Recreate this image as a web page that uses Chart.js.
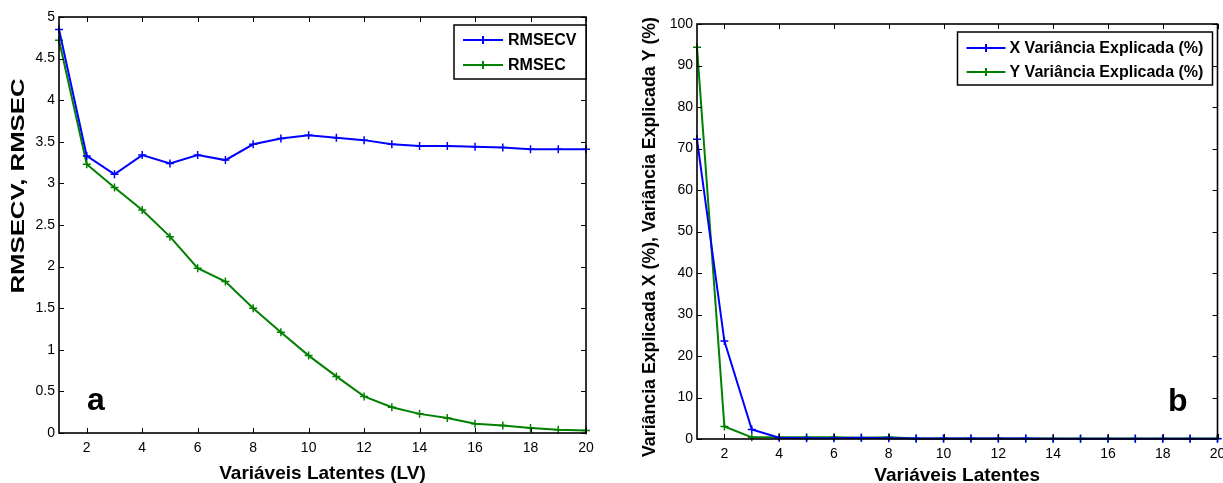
<!DOCTYPE html>
<html>
<head>
<meta charset="utf-8">
<script src="https://cdn.jsdelivr.net/npm/chart.js@4.4.1/dist/chart.umd.min.js"></script>
<style>
    html, body { margin: 0; padding: 0; background: #fff; }
    #wrap { position: relative; width: 1223px; height: 483px; overflow: hidden; }
    #wrap canvas { position: absolute; top: 0; }
</style>
</head>
<body>
<div id="wrap">
    <canvas id="chart-a" width="620" height="483" style="left:0"></canvas>
    <canvas id="chart-b" width="603" height="483" style="left:620px"></canvas>
</div>
<script>
// ---------- Data ----------
const LV = [1, 2, 3, 4, 5, 6, 7, 8, 9, 10, 11, 12, 13, 14, 15, 16, 17, 18, 19, 20];

const RMSECV = [4.85, 3.33, 3.11, 3.34, 3.24, 3.34, 3.28, 3.47, 3.54, 3.58, 3.55, 3.52, 3.47, 3.45, 3.45, 3.44, 3.43, 3.41, 3.41, 3.41];
const RMSEC = [4.72, 3.23, 2.95, 2.68, 2.36, 1.98, 1.82, 1.50, 1.21, 0.93, 0.68, 0.44, 0.31, 0.23, 0.18, 0.11, 0.09, 0.06, 0.04, 0.03];

const X_VAR = [72.2, 23.6, 2.3, 0.3, 0.2, 0.2, 0.3, 0.2, 0.1, 0.1, 0.1, 0.1, 0.1, 0.05, 0.05, 0.05, 0.05, 0.05, 0.05, 0.05];
const Y_VAR = [94.4, 3.0, 0.4, 0.4, 0.4, 0.4, 0.3, 0.4, 0.1, 0.1, 0.1, 0.1, 0.1, 0.1, 0.1, 0.1, 0.1, 0.1, 0.1, 0.1];

const X_TICKS = [2, 4, 6, 8, 10, 12, 14, 16, 18, 20];
const Y_TICKS_A = [0, 0.5, 1, 1.5, 2, 2.5, 3, 3.5, 4, 4.5, 5];
const Y_TICKS_B = [0, 10, 20, 30, 40, 50, 60, 70, 80, 90, 100];

const BLUE = '#0000ff';
const GREEN = '#008000';
const FONT = "'Liberation Sans', Arial, sans-serif";

Chart.defaults.font.family = FONT;
Chart.defaults.color = '#000';

// ---------- Plugins ----------
// MATLAB-style box with inward ticks on all four sides
const framePlugin = {
    id: 'frame',
    afterDatasetsDraw(chart) {
        const { ctx, chartArea: a, scales } = chart;
        const len = 5;
        ctx.save();
        ctx.strokeStyle = '#000';
        ctx.lineWidth = 1;
        ctx.beginPath();
        scales.x.ticks.forEach(t => {
            const px = Math.round(scales.x.getPixelForValue(t.value)) + 0.5;
            ctx.moveTo(px, a.bottom); ctx.lineTo(px, a.bottom - len);
            ctx.moveTo(px, a.top); ctx.lineTo(px, a.top + len);
        });
        scales.y.ticks.forEach(t => {
            const py = Math.round(scales.y.getPixelForValue(t.value)) + 0.5;
            ctx.moveTo(a.left, py); ctx.lineTo(a.left + len, py);
            ctx.moveTo(a.right, py); ctx.lineTo(a.right - len, py);
        });
        ctx.stroke();
        ctx.lineWidth = 1.6;
        ctx.strokeRect(a.left, a.top, a.right - a.left, a.bottom - a.top);
        ctx.restore();
    },
};

// rotated y title, stretched along its length like the exported figure
const yTitlePlugin = {
    id: 'yTitle',
    afterDraw(chart, args, o) {
        const { ctx } = chart;
        ctx.save();
        ctx.font = 'bold ' + o.size + 'px ' + FONT;
        const w = ctx.measureText(o.text).width;
        ctx.translate(o.cx, o.cy);
        ctx.rotate(-Math.PI / 2);
        ctx.scale(o.length / w, 1);
        ctx.textAlign = 'center';
        ctx.textBaseline = 'middle';
        ctx.fillStyle = '#000';
        ctx.fillText(o.text, 0, 0);
        ctx.restore();
    },
};

// legend box drawn inside the plot, plus the panel letter
const boxLegendPlugin = {
    id: 'boxLegend',
    afterDraw(chart, args, o) {
        const { ctx, chartArea: a } = chart;
        const x0 = a.right - o.right - o.width;
        const y0 = a.top + o.top;
        ctx.save();
        ctx.fillStyle = '#fff';
        ctx.fillRect(x0, y0, o.width, o.height);
        ctx.strokeStyle = '#000';
        ctx.lineWidth = 1.5;
        ctx.strokeRect(x0, y0, o.width, o.height);
        ctx.font = 'bold 16px ' + FONT;
        ctx.textBaseline = 'middle';
        chart.data.datasets.forEach((ds, i) => {
            const y = y0 + o.rowTop + i * o.rowGap;
            const lx = x0 + o.lineStart;
            const mid = lx + o.lineLen / 2;
            ctx.strokeStyle = ds.borderColor;
            ctx.lineWidth = 2;
            ctx.beginPath();
            ctx.moveTo(lx, y); ctx.lineTo(lx + o.lineLen, y);
            ctx.moveTo(mid, y - 4); ctx.lineTo(mid, y + 4);
            ctx.stroke();
            ctx.fillStyle = '#000';
            ctx.fillText(ds.label, lx + o.lineLen + o.textGap, y + 1);
        });
        // panel letter
        ctx.font = 'bold 32px ' + FONT;
        ctx.textBaseline = 'alphabetic';
        ctx.fillStyle = '#000';
        if (o.letterAlign === 'left') {
            ctx.textAlign = 'left';
            ctx.fillText(o.letter, a.left + o.letterDx, a.bottom - o.letterDy);
        } else {
            ctx.textAlign = 'right';
            ctx.fillText(o.letter, a.right - o.letterDx, a.bottom - o.letterDy);
        }
        ctx.restore();
    },
};

// ---------- Helpers ----------
function series(label, values, color) {
    return {
        label,
        data: LV.map((x, i) => ({ x, y: values[i] })),
        borderColor: color,
        backgroundColor: color,
        borderWidth: 2,
        pointStyle: 'cross',
        pointRadius: 4,
        pointBorderWidth: 1.5,
        pointHoverRadius: 4,
        tension: 0,
        clip: false,
    };
}

function makeChart(id, cfg) {
    return new Chart(document.getElementById(id), {
        type: 'line',
        data: { datasets: cfg.datasets },
        options: {
            responsive: false,
            animation: false,
            layout: { padding: cfg.padding },
            scales: {
                x: {
                    type: 'linear',
                    min: 1,
                    max: 20,
                    afterBuildTicks: s => { s.ticks = X_TICKS.map(v => ({ value: v })); },
                    afterFit: s => {
                        s.height = cfg.xHeight;
                        s.paddingLeft = 0; s.paddingRight = 0;
                    },
                    grid: { display: false, drawTicks: false },
                    border: { display: false },
                    ticks: { font: { size: 14 }, padding: cfg.xTickPad, maxRotation: 0, autoSkip: false, callback: v => String(v) },
                    title: { display: true, text: cfg.xTitle, font: { size: 19, weight: 'bold' }, padding: cfg.xTitlePad },
                },
                y: {
                    min: cfg.yMin,
                    max: cfg.yMax,
                    afterBuildTicks: s => { s.ticks = cfg.yTicks.map(v => ({ value: v })); },
                    afterFit: s => {
                        s.width = cfg.yWidth;
                        s.paddingTop = 0; s.paddingBottom = 0;
                    },
                    grid: { display: false, drawTicks: false },
                    border: { display: false },
                    ticks: { font: { size: 14 }, padding: 4, autoSkip: false, callback: v => String(v) },
                },
            },
            plugins: {
                legend: { display: false },
                tooltip: { enabled: false },
                boxLegend: cfg.legend,
                yTitle: cfg.yTitle,
            },
        },
        plugins: [framePlugin, boxLegendPlugin, yTitlePlugin],
    });
}

// ---------- Charts ----------
makeChart('chart-a', {
    datasets: [series('RMSECV', RMSECV, BLUE), series('RMSEC', RMSEC, GREEN)],
    padding: { top: 17, right: 34, bottom: 0, left: 0 },
    xHeight: 50,
    xTickPad: 7,
    xTitle: 'Variáveis Latentes (LV)',
    xTitlePad: { top: 0, bottom: -2 },
    yMin: 0, yMax: 5, yTicks: Y_TICKS_A,
    yWidth: 59,
    yTitle: { text: 'RMSECV, RMSEC', size: 18, cx: 19, cy: 186, length: 215 },
    legend: {
        right: 0, top: 8, width: 132, height: 54,
        lineStart: 9, lineLen: 40, textGap: 5, rowTop: 15, rowGap: 25,
        letter: 'a', letterAlign: 'left', letterDx: 28, letterDy: 23,
    },
});

makeChart('chart-b', {
    datasets: [series('X Variância Explicada (%)', X_VAR, BLUE), series('Y Variância Explicada (%)', Y_VAR, GREEN)],
    padding: { top: 24, right: 4, bottom: 0, left: 0 },
    xHeight: 44,
    xTickPad: 7,
    xTitle: 'Variáveis Latentes',
    xTitlePad: { top: 0, bottom: -4 },
    yMin: 0, yMax: 100, yTicks: Y_TICKS_B,
    yWidth: 77,
    yTitle: { text: 'Variância Explicada X (%), Variância Explicada Y (%)', size: 18, cx: 30, cy: 237, length: 440 },
    legend: {
        right: 5, top: 8, width: 255, height: 53,
        lineStart: 9, lineLen: 39, textGap: 4, rowTop: 16, rowGap: 24,
        letter: 'b', letterAlign: 'right', letterDx: 30, letterDy: 28,
    },
});
</script>
</body>
</html>
